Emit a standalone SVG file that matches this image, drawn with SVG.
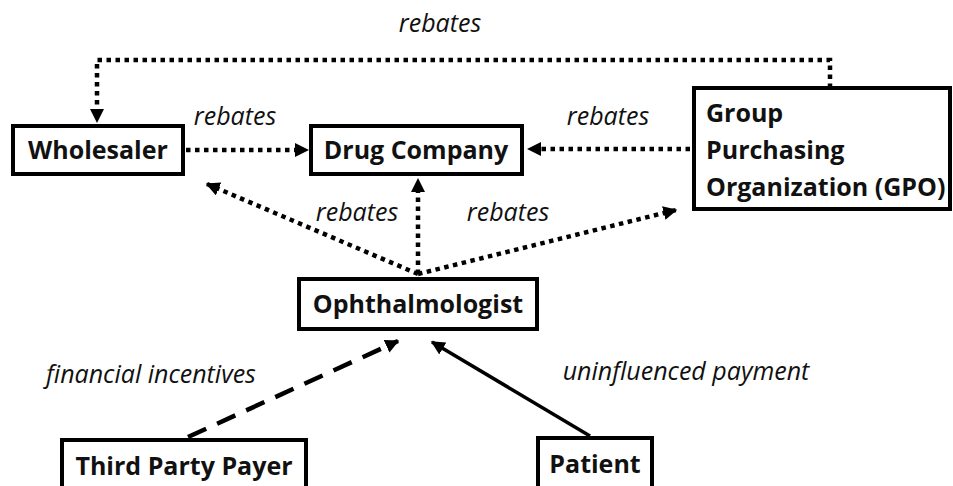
<svg xmlns="http://www.w3.org/2000/svg" width="953" height="486" viewBox="0 0 953 486">
<style>
.box{fill:#fff;stroke:#000;stroke-width:4}
.t{font-family:"Open Sans","Liberation Sans",sans-serif;font-weight:bold;font-size:25px;fill:#111}
.l{font-family:"Open Sans","Liberation Sans",sans-serif;font-style:italic;font-size:25px;fill:#111}
.dot{fill:none;stroke:#000;stroke-width:4.5;stroke-dasharray:4.5 4.5}
.dash{fill:none;stroke:#000;stroke-width:4.5;stroke-dasharray:20 12}
.solid{fill:none;stroke:#000;stroke-width:3.5}
</style>
<defs>
<marker id="ah" viewBox="0 0 10 10" refX="9" refY="5" markerWidth="14" markerHeight="14" markerUnits="userSpaceOnUse" orient="auto">
<path d="M0,0 L10,5 L0,10 z" fill="#000"/>
</marker>
</defs>
<g id="connectors">
<path class="dot" d="M830,88 L830,60 L97,60 L97,110" />
<path d="M90,109 L104,109 L97,123 z" fill="#000"/>
<line class="dot" x1="186" y1="150" x2="296" y2="150"/>
<path d="M295,143 L309,150 L295,157 z" fill="#000"/>
<line class="dot" x1="690" y1="149" x2="540" y2="149"/>
<path d="M541,142 L527,149 L541,156 z" fill="#000"/>
<line class="dot" x1="418" y1="274" x2="418" y2="192"/>
<path d="M411,192 L425,192 L418,178 z" fill="#000"/>
<line class="dot" x1="418" y1="274" x2="207" y2="184" marker-end="url(#ah)"/>
<line class="dot" x1="418" y1="274" x2="676" y2="210" marker-end="url(#ah)"/>
<line class="dash" x1="188" y1="437" x2="398" y2="341" marker-end="url(#ah)"/>
<line class="solid" x1="590" y1="436" x2="432" y2="342" marker-end="url(#ah)"/>
</g>
<g id="labels">
<text class="l" x="440" y="32" text-anchor="middle">rebates</text>
<text class="l" x="235" y="125" text-anchor="middle">rebates</text>
<text class="l" x="608" y="125" text-anchor="middle">rebates</text>
<text class="l" x="357" y="221" text-anchor="middle">rebates</text>
<text class="l" x="508" y="221" text-anchor="middle">rebates</text>
<text class="l" x="151" y="383" text-anchor="middle">financial incentives</text>
<text class="l" x="686" y="380" text-anchor="middle">uninfluenced payment</text>
</g>
<g id="wholesaler">
<rect class="box" x="13" y="126" width="170" height="48"/>
<text class="t" x="98" y="159" text-anchor="middle">Wholesaler</text>
</g>
<g id="drug-company">
<rect class="box" x="311" y="126" width="211" height="48"/>
<text class="t" x="416" y="159" text-anchor="middle">Drug Company</text>
</g>
<g id="gpo">
<rect class="box" x="694" y="88" width="256" height="121"/>
<text class="t" x="706" y="122">Group</text>
<text class="t" x="706" y="159">Purchasing</text>
<text class="t" x="706" y="196">Organization (GPO)</text>
</g>
<g id="ophthalmologist">
<rect class="box" x="299" y="279" width="238" height="50"/>
<text class="t" x="418" y="313" text-anchor="middle">Ophthalmologist</text>
</g>
<g id="third-party-payer">
<rect class="box" x="62" y="440" width="244" height="60"/>
<text class="t" x="184" y="475" text-anchor="middle">Third Party Payer</text>
</g>
<g id="patient">
<rect class="box" x="538" y="438" width="114" height="60"/>
<text class="t" x="595" y="473" text-anchor="middle">Patient</text>
</g>
</svg>
